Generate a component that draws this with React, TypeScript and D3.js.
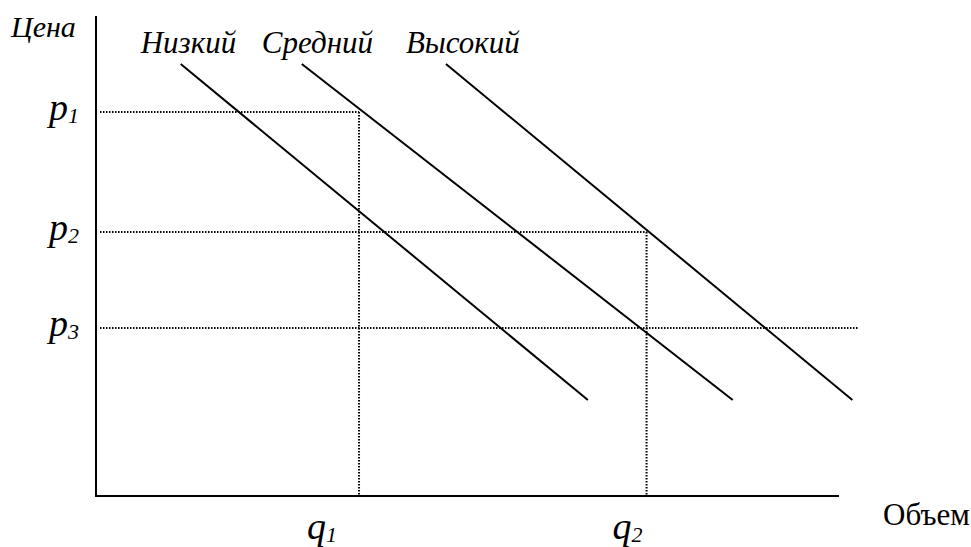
import React from "react";
import * as d3 from "d3";

// Demand curves (quantity, price) at start/end — in abstract units
const curveNames = ["Низкий", "Средний", "Высокий"];
const curveStartQ = [11.4, 27.7, 47.1];
const curveEndQ = [66.2, 85.7, 101.8];
const curveStartP = [90, 90, 90];
const curveEndP = [20, 20, 20];

// Price levels and where their dotted guides end (quantity)
const priceLabels = ["p", "p", "p"];
const priceSubs = ["1", "2", "3"];
const priceValues = [80, 55, 35];
const priceGuideEndQ = [35.4, 74.1, 102.6];

// Quantity levels and where their dotted guides start (price)
const qtyLabels = ["q", "q"];
const qtySubs = ["1", "2"];
const qtyValues = [35.4, 74.1];
const qtyGuideTopP = [80, 55];

const W = 971;
const H = 547;

export default function App() {
  const x = d3.scaleLinear().domain([0, 100]).range([96, 839]);
  const y = d3.scaleLinear().domain([0, 100]).range([496, 16]);
  const font = "'Liberation Serif', 'Times New Roman', serif";
  const qDx = [-37, -19];

  return (
    <svg
      width={W}
      height={H}
      style={{ position: "absolute", left: 0, top: 0, background: "#fff" }}
      fontFamily={font}
    >
      <rect x={0} y={0} width={W} height={H} fill="#fff" />
      {/* dotted price guides */}
      {priceValues.map((p, i) => (
        <line
          key={"pg" + i}
          x1={x(0) + 4}
          x2={x(priceGuideEndQ[i])}
          y1={y(p)}
          y2={y(p)}
          stroke="#000"
          strokeWidth={2}
          strokeDasharray="1.5 1.5"
        />
      ))}
      {/* dotted quantity guides */}
      {qtyValues.map((q, i) => (
        <line
          key={"qg" + i}
          x1={x(q)}
          x2={x(q)}
          y1={y(qtyGuideTopP[i])}
          y2={y(0)}
          stroke="#000"
          strokeWidth={2}
          strokeDasharray="1.5 1.5"
        />
      ))}
      {/* axes */}
      <line x1={x(0)} x2={x(0)} y1={y(100)} y2={y(0) + 1} stroke="#000" strokeWidth={2} />
      <line x1={x(0) - 1} x2={x(100)} y1={y(0)} y2={y(0)} stroke="#000" strokeWidth={2} />
      {/* demand curves */}
      {curveNames.map((name, i) => (
        <g key={"c" + i}>
          <line
            x1={x(curveStartQ[i])}
            y1={y(curveStartP[i])}
            x2={x(curveEndQ[i])}
            y2={y(curveEndP[i])}
            stroke="#000"
            strokeWidth={2}
          />
          <text
            x={x(curveStartQ[i]) - 40}
            y={53}
            fontSize={31}
            fontStyle="italic"
          >
            {name}
          </text>
        </g>
      ))}
      {/* axis titles */}
      <text x={11} y={37} fontSize={30} fontStyle="italic">
        Цена
      </text>
      <text x={883} y={525} fontSize={31}>
        Объем
      </text>
      {/* price labels */}
      {priceValues.map((p, i) => (
        <text
          key={"pl" + i}
          x={79}
          y={y(p) + 8}
          textAnchor="end"
          fontStyle="italic"
          fontSize={38}
        >
          {priceLabels[i]}
          <tspan fontSize={22} dy={3}>
            {priceSubs[i]}
          </tspan>
        </text>
      ))}
      {/* quantity labels */}
      {qtyValues.map((q, i) => (
        <text
          key={"ql" + i}
          x={x(q) + qDx[i]}
          y={539}
          textAnchor="middle"
          fontStyle="italic"
          fontSize={38}
        >
          {qtyLabels[i]}
          <tspan fontSize={22} dy={3}>
            {qtySubs[i]}
          </tspan>
        </text>
      ))}
    </svg>
  );
}
